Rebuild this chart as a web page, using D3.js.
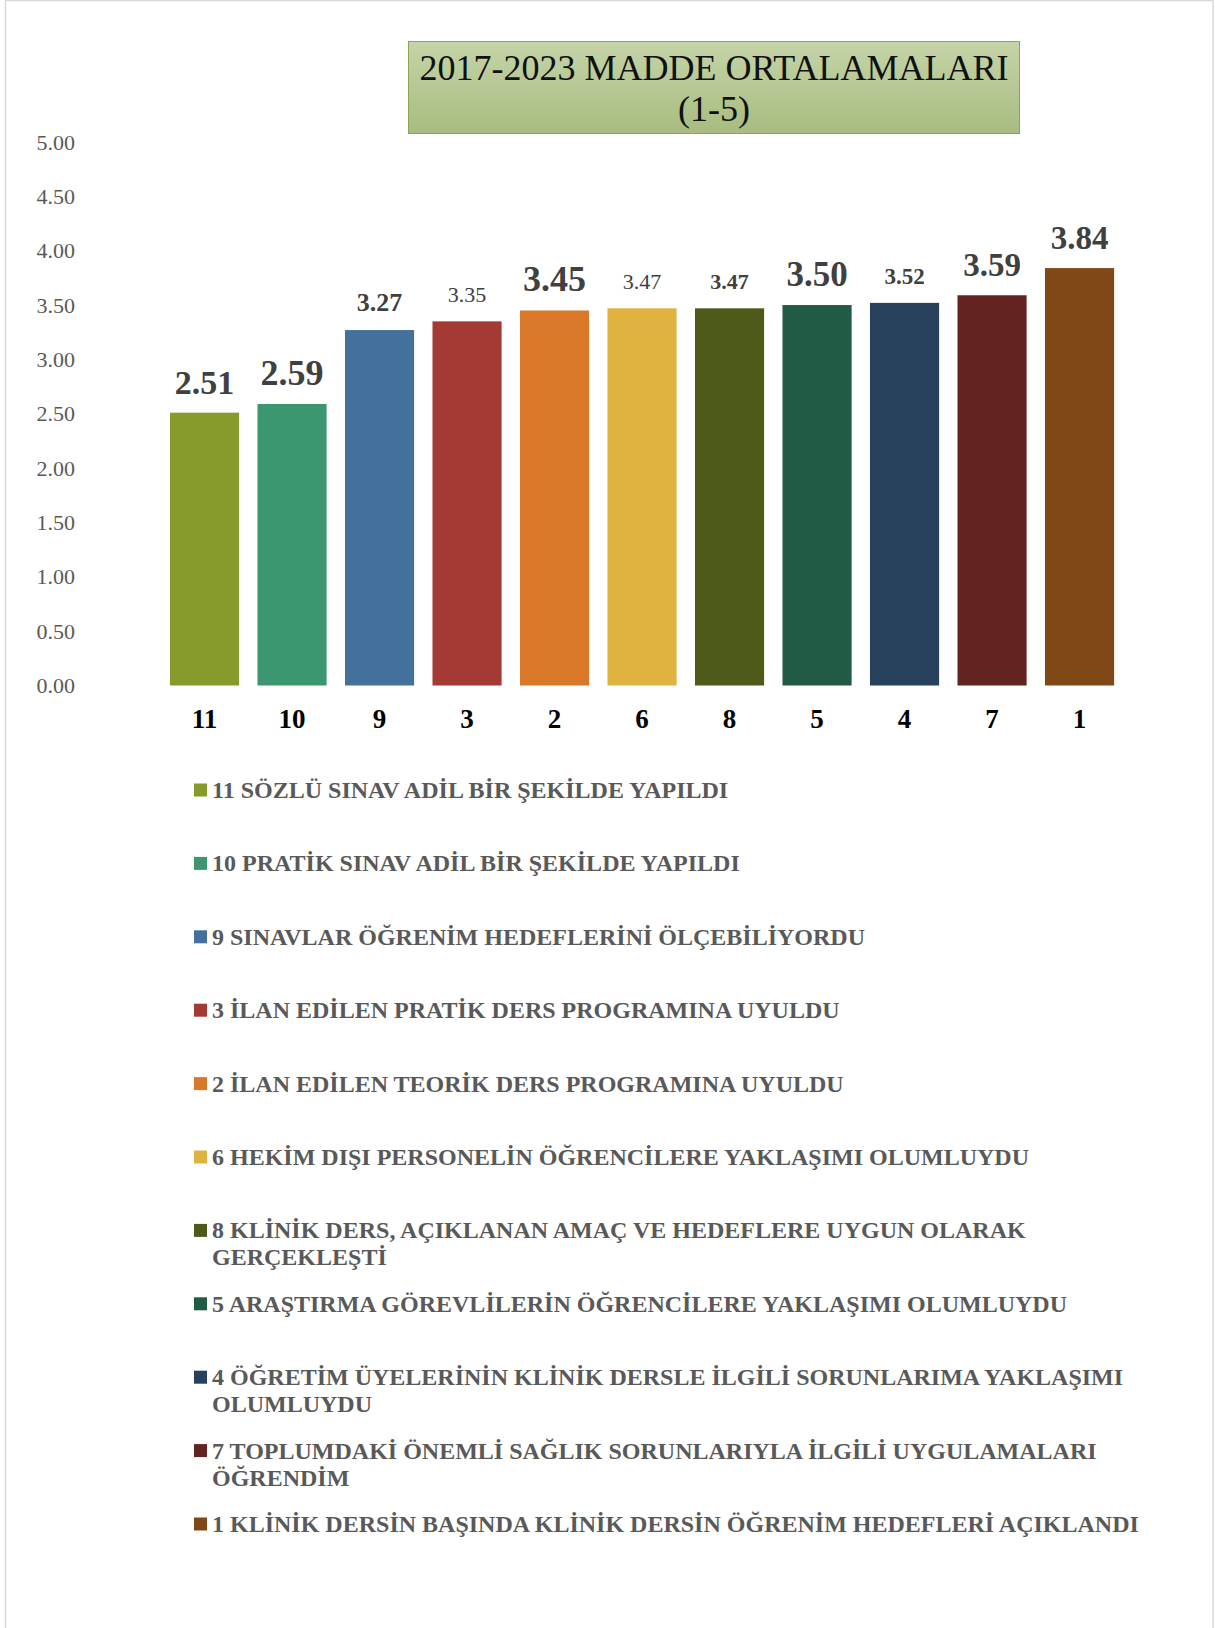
<!DOCTYPE html>
<html>
<head>
<meta charset="utf-8">
<script src="https://cdn.jsdelivr.net/npm/d3@7"></script>
<style>
  html, body { margin: 0; padding: 0; background: #fff; overflow: hidden; }
  svg { display: block; }
  text { font-family: "Liberation Serif", "DejaVu Serif", serif; }
</style>
</head>
<body>
<div id="chart"></div>
<script>
// chart data
var categories = ["11", "10", "9", "3", "2", "6", "8", "5", "4", "7", "1"];
var values = [2.51, 2.59, 3.27, 3.35, 3.45, 3.47, 3.47, 3.50, 3.52, 3.59, 3.84];
var colors = ["#869b2c", "#3c9670", "#43709c", "#a33a34", "#d97829", "#e0b340",
              "#4e5a1a", "#225b43", "#27405c", "#632320", "#814817"];
var yTicks = [0, 0.5, 1, 1.5, 2, 2.5, 3, 3.5, 4, 4.5, 5];
var legendLabels = [
  "11 SÖZLÜ SINAV ADİL BİR ŞEKİLDE YAPILDI",
  "10 PRATİK SINAV ADİL BİR ŞEKİLDE YAPILDI",
  "9 SINAVLAR ÖĞRENİM HEDEFLERİNİ ÖLÇEBİLİYORDU",
  "3 İLAN EDİLEN PRATİK DERS PROGRAMINA UYULDU",
  "2 İLAN EDİLEN TEORİK DERS PROGRAMINA UYULDU",
  "6 HEKİM DIŞI PERSONELİN ÖĞRENCİLERE YAKLAŞIMI OLUMLUYDU",
  "8 KLİNİK DERS, AÇIKLANAN AMAÇ VE HEDEFLERE UYGUN OLARAK|GERÇEKLEŞTİ",
  "5 ARAŞTIRMA GÖREVLİLERİN ÖĞRENCİLERE YAKLAŞIMI OLUMLUYDU",
  "4 ÖĞRETİM ÜYELERİNİN KLİNİK DERSLE İLGİLİ SORUNLARIMA YAKLAŞIMI|OLUMLUYDU",
  "7 TOPLUMDAKİ ÖNEMLİ SAĞLIK SORUNLARIYLA İLGİLİ UYGULAMALARI|ÖĞRENDİM",
  "1 KLİNİK DERSİN BAŞINDA KLİNİK DERSİN ÖĞRENİM HEDEFLERİ AÇIKLANDI"
];
// value label styles as in the picture (size, weight)
var labelStyle = [[34, 700], [36, 700], [26, 700], [22, 400], [36, 700], [22, 400],
                  [22, 700], [35, 700], [23, 700], [33, 700], [33, 700]];

var svgWidth = 1215, svgHeight = 1628;

var svg = d3.select("#chart")
  .append("svg")
  .attr("width", svgWidth)
  .attr("height", svgHeight);

// outer frame
svg.append("rect")
  .attr("x", 5.5).attr("y", 0.5)
  .attr("width", 1207.5).attr("height", 1660)
  .attr("fill", "#fff")
  .attr("stroke", "#d9d9d9")
  .attr("stroke-width", 1.5);

// title box with gradient
var defs = svg.append("defs");
var grad = defs.append("linearGradient")
  .attr("id", "titleGrad")
  .attr("x1", 0).attr("y1", 0).attr("x2", 0).attr("y2", 1);
grad.append("stop").attr("offset", "0%").attr("stop-color", "#c5d4a8");
grad.append("stop").attr("offset", "100%").attr("stop-color", "#a8bc80");

svg.append("rect")
  .attr("x", 408.5).attr("y", 41.5)
  .attr("width", 611).attr("height", 92)
  .attr("fill", "url(#titleGrad)")
  .attr("stroke", "#8ba650")
  .attr("stroke-width", 1);

var title = svg.append("text")
  .attr("text-anchor", "middle")
  .attr("font-size", 36)
  .attr("fill", "#111");
title.append("tspan").attr("x", 714).attr("y", 80).text("2017-2023 MADDE ORTALAMALARI");
title.append("tspan").attr("x", 714).attr("y", 121).text("(1-5)");

// scales
var x = d3.scaleBand()
  .domain(categories)
  .range([160.8, 1123.3])
  .paddingInner(0.21)
  .paddingOuter(0.105);

var y = d3.scaleLinear()
  .domain([0, 5])
  .range([685.5, 142]);

// y axis
var yAxis = svg.append("g")
  .attr("transform", "translate(75,0)")
  .call(d3.axisLeft(y).tickValues(yTicks).tickFormat(d3.format(".2f")).tickSize(0).tickPadding(0));
yAxis.select(".domain").remove();
yAxis.selectAll("text")
  .attr("fill", "#595959")
  .attr("font-size", 22)
  .style("font-family", "Liberation Serif, serif");

// bars
svg.selectAll(".bar")
  .data(values)
  .enter()
  .append("rect")
  .attr("class", "bar")
  .attr("x", (d, i) => x(categories[i]))
  .attr("y", d => y(d))
  .attr("width", x.bandwidth())
  .attr("height", d => y(0) - y(d))
  .attr("fill", (d, i) => colors[i]);

// value labels
svg.selectAll(".val")
  .data(values)
  .enter()
  .append("text")
  .attr("class", "val")
  .attr("x", (d, i) => x(categories[i]) + x.bandwidth() / 2)
  .attr("y", d => y(d) - 19)
  .attr("text-anchor", "middle")
  .attr("fill", "#404040")
  .attr("font-size", (d, i) => labelStyle[i][0])
  .attr("font-weight", (d, i) => labelStyle[i][1])
  .text(d => d3.format(".2f")(d));

// x axis
var xAxis = svg.append("g")
  .attr("transform", `translate(0,${y(0)})`)
  .call(d3.axisBottom(x).tickSize(0).tickPadding(0));
xAxis.select(".domain").remove();
xAxis.selectAll("text")
  .attr("y", 42)
  .attr("dy", 0)
  .attr("fill", "#000")
  .attr("font-size", 27)
  .attr("font-weight", 700)
  .style("font-family", "Liberation Serif, serif");

// legend
var legend = svg.append("g").attr("class", "legend");
var item = legend.selectAll("g")
  .data(legendLabels)
  .enter()
  .append("g")
  .attr("transform", (d, i) => `translate(194, ${790 + i * 73.4})`);

item.append("rect")
  .attr("x", 0).attr("y", -6.5)
  .attr("width", 13).attr("height", 13)
  .attr("fill", (d, i) => colors[i]);

item.each(function(d) {
  var t = d3.select(this).append("text")
    .attr("fill", "#595959")
    .attr("font-size", 24)
    .attr("font-weight", 700);
  d.split("|").forEach(function(line, j) {
    t.append("tspan")
      .attr("x", 18)
      .attr("y", 8 + j * 27)
      .text(line);
  });
});
</script>
</body>
</html>
